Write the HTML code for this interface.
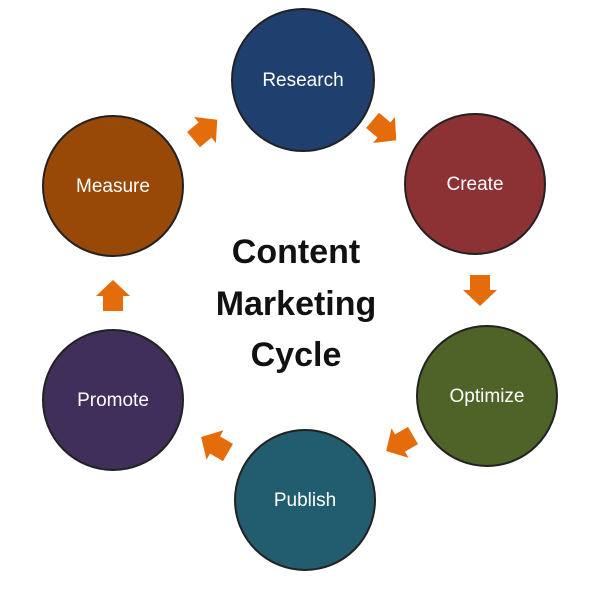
<!DOCTYPE html>
<html><head><style>
body{margin:0;background:#fff;width:600px;height:595px;overflow:hidden}
svg text{font-family:"Liberation Sans",sans-serif}
</style></head><body>
<svg width="600" height="595" viewBox="0 0 600 595">
<defs>
<polygon id="a" points="-15,-10 0,-10 0,-17 16,0 0,17 0,10 -15,10" fill="#e46c0a"/>
</defs>
<g stroke="#222" stroke-width="2">
<circle cx="303" cy="80" r="71" fill="#1f3f6f"/>
<circle cx="475" cy="184" r="70" fill="#8c3234"/>
<circle cx="487" cy="396" r="70" fill="#4f6228"/>
<circle cx="305" cy="500" r="70" fill="#225c6f"/>
<circle cx="113" cy="400" r="70" fill="#3f2f5a"/>
<circle cx="113" cy="186" r="70" fill="#984807"/>
</g>
<g fill="#fff" font-size="19" text-anchor="middle">
<text x="303" y="86">Research</text>
<text x="475" y="190">Create</text>
<text x="487" y="402">Optimize</text>
<text x="305" y="506">Publish</text>
<text x="113" y="406">Promote</text>
<text x="113" y="192">Measure</text>
</g>
<g fill="#111" font-size="34" font-weight="bold" text-anchor="middle">
<text x="296" y="263">Content</text>
<text x="296" y="315">Marketing</text>
<text x="296" y="366">Cycle</text>
</g>
<use href="#a" transform="translate(205,130) rotate(-40)"/>
<use href="#a" transform="translate(384,130) rotate(40)"/>
<use href="#a" transform="translate(480,290) rotate(90)"/>
<use href="#a" transform="translate(400,443) rotate(150)"/>
<use href="#a" transform="translate(215,445) rotate(-150)"/>
<use href="#a" transform="translate(113,296) rotate(-90)"/>
</svg>
</body></html>
